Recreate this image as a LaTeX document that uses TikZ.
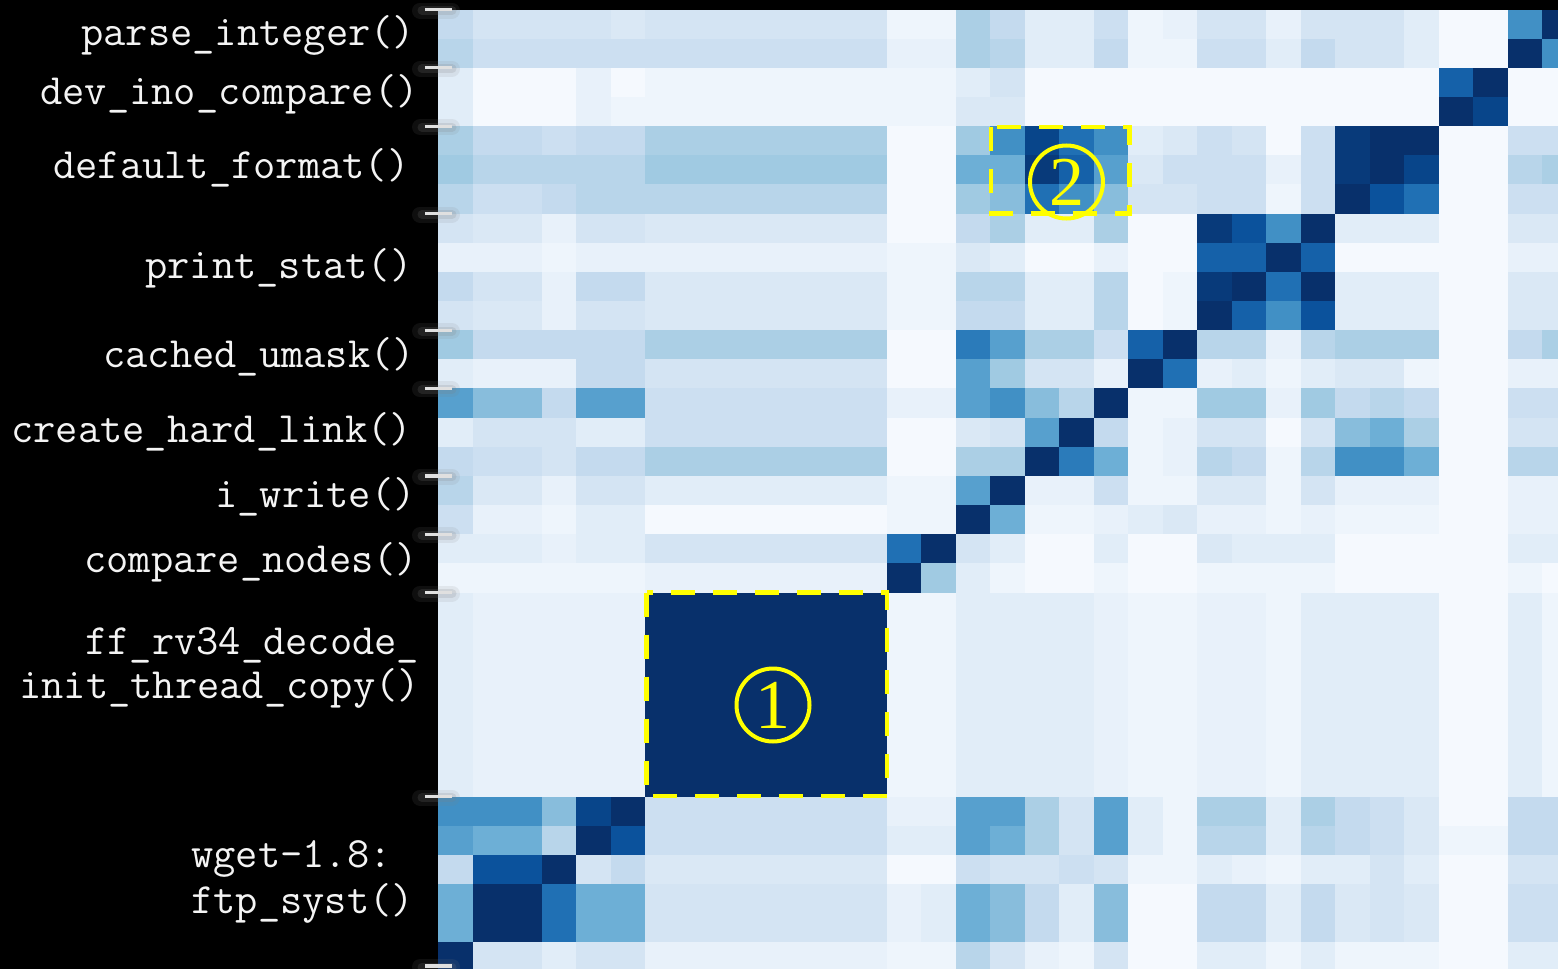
\documentclass[tikz,border=0pt]{standalone}
\usepackage{fontspec}
\newfontfamily\digfont{Liberation Serif}
\definecolor{hma}{HTML}{F5F9FE}
\definecolor{hmb}{HTML}{EEF5FC}
\definecolor{hmc}{HTML}{E8F1FA}
\definecolor{hmd}{HTML}{E1EDF8}
\definecolor{hme}{HTML}{DAE8F5}
\definecolor{hmf}{HTML}{D4E4F3}
\definecolor{hmg}{HTML}{CCDFF1}
\definecolor{hmh}{HTML}{C4DAEE}
\definecolor{hmi}{HTML}{B8D5EA}
\definecolor{hmj}{HTML}{ABCFE5}
\definecolor{hmk}{HTML}{A0CAE2}
\definecolor{hml}{HTML}{88BDDC}
\definecolor{hmm}{HTML}{6DAFD6}
\definecolor{hmn}{HTML}{57A0CE}
\definecolor{hmo}{HTML}{4190C5}
\definecolor{hmp}{HTML}{2B7BBA}
\definecolor{hmq}{HTML}{2070B4}
\definecolor{hmr}{HTML}{1561A9}
\definecolor{hms}{HTML}{0B529C}
\definecolor{hmt}{HTML}{08458A}
\definecolor{hmu}{HTML}{083A7A}
\definecolor{hmv}{HTML}{08306B}
\definecolor{ticky}{HTML}{E0E0E0}
\definecolor{labwhite}{HTML}{F4F4F4}
\definecolor{yel}{HTML}{FFFF00}
\newcommand\hmrow[2]{%
  \foreach \hv [count=\hj from 0] in {#2}{%
    \fill[hm\hv] ({438+34.5*\hj},{9.5+29.15*#1}) rectangle ++(35,29.6);}}
\tikzset{
  lab/.style={text=labwhite, font=\ttfamily\fontsize{21.6}{25}\selectfont, inner sep=0pt, anchor=base west},
  tickhaloA/.style={line width=8pt, draw=gray, opacity=0.12, line cap=round},
  tickhaloB/.style={line width=4.5pt, draw=gray, opacity=0.18, line cap=round},
  tickline/.style={line width=1.6pt, draw=ticky},
  ybox/.style={draw=yel, line width=2.4pt, dash pattern=on 12pt off 9pt},
  circ/.style={circle, draw=yel, line width=2pt, minimum size=36.5pt, inner sep=0pt, text=yel, font=\digfont\fontsize{35}{35}\selectfont}
}
\begin{document}
\begin{tikzpicture}[x=0.5pt,y=-0.5pt]
\fill[black] (0,0) rectangle (1558,969);
\useasboundingbox (0,0) rectangle (1558,969);
\begin{scope}
\clip (0,0) rectangle (1558,969);
\hmrow{0}{h,f,f,f,f,e,f,f,f,f,f,f,f,b,b,j,h,d,d,g,b,c,f,f,c,f,f,f,d,a,a,o,v}
\hmrow{1}{i,g,g,g,g,g,g,g,g,g,g,g,g,c,c,j,i,d,d,h,b,b,g,g,d,h,f,f,d,a,a,v,o}
\hmrow{2}{d,a,a,a,c,a,b,b,b,b,b,b,b,b,b,d,f,a,a,a,a,a,a,a,a,a,a,a,a,r,v,a,a}
\hmrow{3}{d,a,a,a,c,b,b,b,b,b,b,b,b,b,b,e,e,a,a,a,a,a,a,a,a,a,a,a,a,v,t,a,a}
\hmrow{4}{j,h,h,g,h,h,j,j,j,j,j,j,j,a,a,k,o,t,q,o,d,e,g,f,a,g,u,v,v,a,a,g,g}
\hmrow{5}{k,i,i,i,i,i,k,k,k,k,k,k,k,a,a,m,m,u,r,n,e,g,g,g,c,g,u,v,t,a,a,i,j}
\hmrow{6}{i,g,g,h,i,i,i,i,i,i,i,i,i,a,a,k,l,q,o,l,f,f,g,g,b,g,v,s,q,a,a,g,g}
\hmrow{7}{f,e,e,c,f,f,e,e,e,e,e,e,e,a,a,h,j,d,d,j,a,a,u,s,o,v,d,d,d,a,a,e,e}
\hmrow{8}{c,c,c,b,c,c,c,c,c,c,c,c,c,b,b,e,d,a,a,c,a,a,r,r,v,r,a,a,a,a,a,c,c}
\hmrow{9}{h,f,f,c,h,h,e,e,e,e,e,e,e,b,b,i,i,d,d,i,a,b,u,v,q,v,d,d,d,a,a,e,e}
\hmrow{10}{f,e,e,c,f,f,e,e,e,e,e,e,e,b,b,h,h,d,d,i,a,b,v,r,o,s,d,d,d,a,a,e,e}
\hmrow{11}{k,h,h,h,h,h,j,j,j,j,j,j,j,a,a,p,n,j,j,g,r,v,i,i,c,i,j,j,j,a,a,h,j}
\hmrow{12}{d,c,c,c,h,h,f,f,f,f,f,f,f,a,a,n,k,f,f,c,v,q,c,d,b,d,e,e,b,a,a,c,c}
\hmrow{13}{n,l,l,h,n,n,g,g,g,g,g,g,g,c,c,n,o,l,i,v,b,b,k,k,c,k,h,i,h,a,a,g,g}
\hmrow{14}{d,f,f,f,d,d,g,g,g,g,g,g,g,a,a,e,f,n,v,h,b,c,f,f,a,f,l,m,j,a,a,f,f}
\hmrow{15}{h,g,g,f,h,h,j,j,j,j,j,j,j,a,a,j,j,v,p,m,b,c,i,h,b,i,o,o,m,a,a,i,i}
\hmrow{16}{i,e,e,c,f,f,d,d,d,d,d,d,d,b,b,n,v,c,c,g,b,b,e,e,b,f,c,c,c,a,a,c,c}
\hmrow{17}{g,c,c,b,d,d,a,a,a,a,a,a,a,b,b,v,m,b,b,c,d,e,c,c,b,c,b,b,b,a,a,c,c}
\hmrow{18}{d,d,d,c,d,d,f,f,f,f,f,f,f,q,v,f,d,a,a,d,a,a,e,d,d,d,a,a,a,a,a,d,d}
\hmrow{19}{b,b,b,b,b,b,c,c,c,c,c,c,c,v,k,d,b,a,a,b,a,a,b,b,b,b,a,a,a,a,a,b,a}
\foreach \hr in {20,...,26}{%
\hmrow{\hr}{d,c,c,c,c,c,v,v,v,v,v,v,v,b,b,d,d,d,d,c,b,b,c,c,b,d,d,d,d,a,a,d,b}}
\hmrow{27}{o,o,o,l,t,v,g,g,g,g,g,g,g,c,c,n,n,j,f,n,d,b,j,j,d,j,h,g,e,a,a,h,h}
\hmrow{28}{n,m,m,i,v,s,g,g,g,g,g,g,g,d,d,n,m,j,f,n,d,b,i,i,d,i,h,g,e,b,b,h,h}
\hmrow{29}{h,s,s,v,f,h,e,e,e,e,e,e,e,a,a,g,f,f,g,f,b,b,d,c,b,d,d,f,d,a,a,f,f}
\hmrow{30}{m,v,v,q,m,m,f,f,f,f,f,f,f,c,d,m,l,h,d,l,a,a,h,h,d,h,e,f,e,a,a,g,g}
\hmrow{31}{m,v,v,q,m,m,f,f,f,f,f,f,f,c,d,m,l,h,d,l,a,a,h,h,d,h,e,f,e,a,a,g,g}
\hmrow{32}{v,f,f,d,f,f,c,c,c,c,c,c,c,b,b,i,f,c,b,f,a,a,d,d,b,d,b,b,b,a,a,d,d}
% ticks
\foreach \ty in {9.5,67.8,126.1,213.5,330.1,388.4,475.9,534.2,592.5,796.5,966}{%
  \draw[tickhaloA] (420,\ty+1) -- (452,\ty+1);
  \draw[tickhaloB] (422,\ty+1) -- (452,\ty+1);
  \draw[tickline] (425,\ty) -- (452,\ty);}
\end{scope}
% labels
\node[lab] (l0) at (81,45) {parse\_integer()};
\node[lab] (l1) at (40,104) {dev\_ino\_compare()};
\node[lab] (l2) at (53,178) {default\_format()};
\node[lab] (l3) at (145,278) {print\_stat()};
\node[lab] (l4) at (103,367) {cached\_umask()};
\node[lab] (l5) at (11,442) {create\_hard\_link()};
\node[lab] (l6) at (215,507) {i\_write()};
\node[lab] (l7) at (84,572) {compare\_nodes()};
\node[lab] (l8a) at (85,654) {ff\_rv34\_decode\_};
\node[lab] (l8b) at (19,698) {init\_thread\_copy()};
\node[lab] (l9a) at (191,867) {wget-1.8:};
\node[lab] (l9b) at (191,913) {ftp\_syst()};
% highlights
\draw[ybox] (646.5,592.5) rectangle (887,796);
\draw[ybox] (991,127) rectangle (1129.5,213.5);
\node[circ] (c1) at (773,705) {1};
\node[circ] (c2) at (1066.5,182) {2};
\end{tikzpicture}
\end{document}
